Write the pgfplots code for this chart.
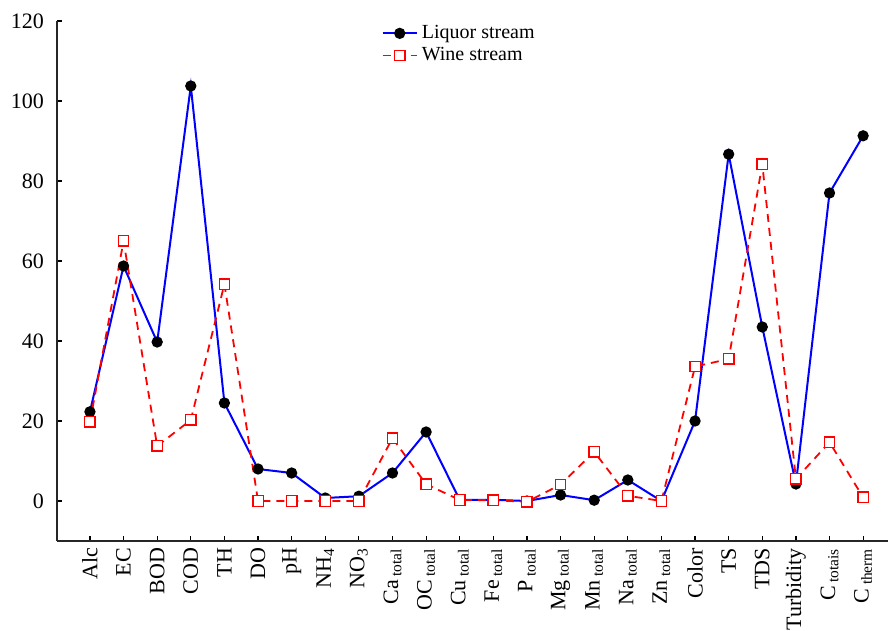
\documentclass[border=0pt]{standalone}
\usepackage{fontspec}
\setmainfont{Liberation Serif}
\usepackage{pgfplots}
\pgfplotsset{compat=1.18}

\begin{document}
\begin{tikzpicture}
\path[use as bounding box] (-28.5pt,-45pt) rectangle (415.5pt,270.5pt);
\begin{axis}[
    at={(0pt,0pt)}, anchor=south west,
    scale only axis,
    width=415.5pt,
    height=260pt,
    axis lines=left,
    axis line style={-, line width=0.9pt, black!85},
    xmin=-0.98, xmax=23.74,
    ymin=-10, ymax=120,
    ytick={0,20,...,120},
    xtick={0,...,23},
    xticklabels={Alc, EC, BOD, COD, TH, DO, pH, NH\textsubscript{4}, NO\textsubscript{3},
        Ca\,\textsubscript{total}, OC\,\textsubscript{total}, Cu\,\textsubscript{total},
        Fe\,\textsubscript{total}, P\,\textsubscript{total}, Mg\,\textsubscript{total},
        Mn\,\textsubscript{total}, Na\,\textsubscript{total}, Zn\,\textsubscript{total},
        Color, TS, TDS, Turbidity, C\,\textsubscript{totais}, C\,\textsubscript{therm}},
    x tick label style={rotate=90, anchor=east, font=\fontsize{11}{13}\selectfont},
    y tick label style={font=\fontsize{11}{13}\selectfont},
    /pgf/number format/assume math mode=true,
    tick align=inside,
    major tick length=2.5pt,
    tick style={black, line width=0.6pt},
    yticklabel style={xshift=-3pt},
    legend cell align=left,
    legend style={draw=none, fill=none, at={(0.383,1.008)}, anchor=north west,
        font=\fontsize{10}{12}\selectfont, row sep=-1pt},
]

% Liquor stream
\addplot[color=blue, line width=1pt, mark=*, mark size=2.3pt,
    mark options={solid, draw=black, fill=black}] coordinates {
    (0,22.3) (1,58.75) (2,39.75) (3,103.75) (4,24.5) (5,8) (6,7) (7,0.75)
    (8,1.2) (9,7) (10,17.25) (11,0.25) (12,0.3) (13,0) (14,1.5) (15,0.2)
    (16,5.25) (17,0) (18,20) (19,86.7) (20,43.5) (21,4.25) (22,77) (23,91.3)
};
\addlegendentry{Liquor stream}

% Wine stream
\addplot[color=red, line width=0.9pt, dash pattern=on 4pt off 3pt, mark=square*,
    mark size=2.6pt, mark options={solid, draw=red, fill=white, line width=0.7pt}] coordinates {
    (0,19.75) (1,65) (2,13.75) (3,20.25) (4,54.2) (5,0) (6,0) (7,0)
    (8,0) (9,15.7) (10,4.2) (11,0.25) (12,0.2) (13,-0.2) (14,4.1) (15,12.3)
    (16,1.3) (17,0) (18,33.6) (19,35.5) (20,84.2) (21,5.5) (22,14.7) (23,0.9)
};
\addlegendentry{Wine stream}

\end{axis}
\end{tikzpicture}
\end{document}
